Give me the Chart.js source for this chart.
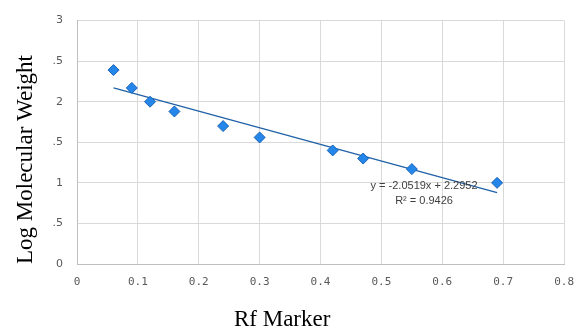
<!DOCTYPE html>
<html>
<head>
<meta charset="utf-8">
<script src="https://cdn.jsdelivr.net/npm/chart.js@4/dist/chart.umd.min.js"></script>
<style>
  html, body { margin: 0; padding: 0; background: #fff; }
  #wrap { width: 586px; height: 329px; }
</style>
</head>
<body>
<div id="wrap"><canvas id="chart" width="586" height="329"></canvas></div>
<script>
// data
const rfMarker = [0.06, 0.09, 0.12, 0.16, 0.24, 0.30, 0.42, 0.47, 0.55, 0.69];
const logMolWeight = [2.39, 2.17, 2.00, 1.88, 1.70, 1.56, 1.40, 1.30, 1.17, 1.00];

// linear trendline drawn between first and last Rf
const trendX = [0.06, 0.69];
const trendY = [2.17, 0.88];

const yTickLabels = ["0", ".5", "1", ".5", "2", ".5", "3"];
const equationText = ["y = -2.0519x + 2.2952", "R\u00b2 = 0.9426"];
const equationAt = [0.57, 0.96];
const xTitle = "Rf Marker";
const xTitleAt = 0.337;

const serif = "'Liberation Serif', 'Times New Roman', serif";

// trendline equation and the x axis title (which sits left of the plot centre)
const textPlugin = {
    id: "extraText",
    afterDraw(chart) {
        const ctx = chart.ctx;
        const x = chart.scales.x.getPixelForValue(equationAt[0]);
        const y = chart.scales.y.getPixelForValue(equationAt[1]);
        ctx.save();
        ctx.font = "11px 'Liberation Sans', Arial, sans-serif";
        ctx.fillStyle = "#404040";
        ctx.textAlign = "center";
        ctx.textBaseline = "middle";
        equationText.forEach((t, i) => ctx.fillText(t, x, y + i * 15));

        ctx.font = "23px " + serif;
        ctx.fillStyle = "#000";
        ctx.textBaseline = "alphabetic";
        ctx.fillText(xTitle, chart.scales.x.getPixelForValue(xTitleAt), chart.height - 3);
        ctx.restore();
    }
};

const ctx = document.getElementById("chart").getContext("2d");

new Chart(ctx, {
    type: "scatter",
    data: {
        datasets: [{
            label: "Markers",
            data: rfMarker.map((x, i) => ({ x: x, y: logMolWeight[i] })),
            pointStyle: "rectRot",
            pointRadius: 5.5,
            backgroundColor: "#2486e8",
            borderColor: "#1a62b8",
            borderWidth: 1,
            order: 1
        }, {
            label: "Trend",
            type: "line",
            data: trendX.map((x, i) => ({ x: x, y: trendY[i] })),
            borderColor: "#2061a8",
            borderWidth: 1.3,
            pointRadius: 0,
            fill: false,
            order: 2
        }]
    },
    options: {
        responsive: false,
        animation: false,
        layout: { padding: { top: 18, right: 19, left: 0, bottom: 0 } },
        plugins: {
            legend: { display: false },
            tooltip: { enabled: false }
        },
        scales: {
            x: {
                type: "linear",
                min: 0,
                max: 0.8,
                ticks: {
                    stepSize: 0.1,
                    padding: 12,
                    color: "#595959",
                    font: { family: "'DejaVu Sans Mono', monospace", size: 11 },
                    callback: v => v === 0 ? "0" : v.toFixed(1)
                },
                grid: { color: "#d9d9d9", drawTicks: false },
                border: { color: "#bfbfbf" },
                afterFit: s => { s.height = 65; }
            },
            y: {
                min: 0,
                max: 3,
                ticks: {
                    stepSize: 0.5,
                    padding: 14,
                    color: "#595959",
                    font: { family: "'DejaVu Sans', sans-serif", size: 11 },
                    callback: (v, i) => yTickLabels[i]
                },
                grid: { color: "#d9d9d9", drawTicks: false },
                border: { color: "#bfbfbf" },
                title: {
                    display: true,
                    text: "Log Molecular Weight",
                    align: "start",
                    color: "#000",
                    font: { family: serif, size: 23 },
                    padding: { top: 12, bottom: 0 }
                },
                afterFit: s => { s.width = 77; }
            }
        }
    },
    plugins: [textPlugin]
});
</script>
</body>
</html>
